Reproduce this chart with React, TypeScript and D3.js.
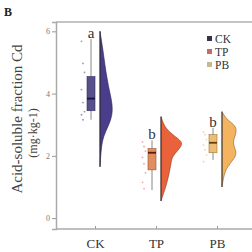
import React, { useRef, useEffect } from "react";
import * as d3 from "d3";

// groups and colours
const groups = ["CK", "TP", "PB"];
const sigLetters = ["a", "b", "b"];
const violinFill = ["#4a3d8c", "#e9623b", "#f3b35f"];
const violinStroke = ["#2a2050", "#8a3a20", "#8a6030"];
const boxFill = ["#56508c", "#e0905f", "#ecbd74"];
const boxStroke = ["#3a3060", "#a04a2a", "#a07838"];
const medianColor = ["#1c1434", "#5a1e0e", "#6a4010"];
const legendColors = ["#3a3048", "#c86a6a", "#c8b890"];

// box stats: [min, q1, median, q3, max]
const boxStats = [
  [3.16, 3.45, 3.84, 4.55, 5.75],
  [0.9, 1.55, 2.1, 2.23, 2.5],
  [1.87, 2.1, 2.42, 2.68, 2.9],
];

// raw points
const ckPoints = [5.68, 4.97, 4.68, 4.13, 3.71, 3.42, 3.32, 3.16];
const tpPoints = [2.45, 2.3, 2.15, 1.95, 1.75, 1.45, 1.15, 0.95];
const pbPoints = [2.77, 2.68, 2.52, 2.35, 2.19, 2.03, 1.81];

// half violin profiles (value, relative density)
const ckViolinValues = [6.0, 5.42, 4.94, 4.45, 4.06, 3.8, 3.39, 3.0, 2.61, 2.19, 1.9, 1.65];
const ckViolinDensity = [0, 0.12, 0.2, 0.3, 0.4, 0.48, 0.54, 0.38, 0.12, 0.05, 0.02, 0];
const tpViolinValues = [3.26, 3.03, 2.84, 2.61, 2.42, 2.19, 1.97, 1.77, 1.39, 1.0, 0.74, 0.55];
const tpViolinDensity = [0, 0.1, 0.25, 0.6, 0.95, 0.72, 0.46, 0.42, 0.33, 0.2, 0.08, 0];
const pbViolinValues = [3.42, 3.29, 3.16, 2.94, 2.68, 2.42, 2.13, 1.94, 1.65, 1.39, 1.0];
const pbViolinDensity = [0, 0.1, 0.22, 0.62, 0.58, 0.42, 0.62, 0.54, 0.22, 0.08, 0];

const yTicks = [0, 2, 4, 6];

const points = [ckPoints, tpPoints, pbPoints];
const violins = [
  [ckViolinValues, ckViolinDensity],
  [tpViolinValues, tpViolinDensity],
  [pbViolinValues, pbViolinDensity],
];

const RaincloudChart = () => {
  const container = useRef(null);

  const width = 252;
  const height = 252;

  useEffect(() => {
    const svg = d3.select(container.current);
    svg.selectAll("*").remove();

    const font = "'Liberation Serif', 'Times New Roman', serif";

    const xScale = d3.scalePoint().domain(groups).range([95, 217]);
    const yScale = d3.scaleLinear().domain([-0.35, 6.3]).range([229, 22]);
    const wScale = d3.scaleLinear().domain([0, 1]).range([0, 24]);

    // frame lines
    svg
      .append("line")
      .attr("x1", 56)
      .attr("x2", width)
      .attr("y1", yScale(6.3))
      .attr("y2", yScale(6.3))
      .attr("stroke", "#b0b0b0")
      .attr("stroke-width", 1.5);

    // y axis
    const yAxis = d3
      .axisLeft(yScale)
      .tickValues(yTicks)
      .tickFormat(d3.format("d"))
      .tickSize(4)
      .tickPadding(2);
    const yg = svg.append("g").attr("transform", "translate(56,0)").call(yAxis);
    yg.select(".domain").attr("stroke", "#aaa").attr("stroke-width", 1.5);
    yg.selectAll(".tick line").attr("stroke", "#999");
    yg.selectAll(".tick text")
      .attr("fill", "#777")
      .style("font-family", font)
      .style("font-size", "8px");

    // x axis
    const xAxis = d3.axisBottom(xScale).tickSize(-3).tickPadding(10);
    const xg = svg.append("g").attr("transform", "translate(0,229)").call(xAxis);
    xg.select(".domain").remove();
    xg.append("line")
      .attr("x1", 56)
      .attr("x2", width)
      .attr("stroke", "#aaa")
      .attr("stroke-width", 1.5);
    xg.selectAll(".tick line").attr("stroke", "#999");
    xg.selectAll(".tick text")
      .attr("fill", "#333")
      .style("font-family", font)
      .style("font-size", "13px");

    // y label
    svg
      .append("text")
      .attr("transform", `translate(22,${119}) rotate(-90)`)
      .attr("text-anchor", "middle")
      .attr("fill", "#444")
      .style("font-family", font)
      .style("font-size", "15px")
      .text("Acid-soluble fraction Cd");
    svg
      .append("text")
      .attr("transform", `translate(37,${133}) rotate(-90)`)
      .attr("text-anchor", "middle")
      .attr("fill", "#444")
      .style("font-family", font)
      .style("font-size", "12px")
      .text("(mg·kg-1)");

    // panel letter
    svg
      .append("text")
      .attr("x", 4)
      .attr("y", 16)
      .attr("fill", "#222")
      .style("font-family", font)
      .style("font-weight", "bold")
      .style("font-size", "12px")
      .text("B");

    groups.forEach((g, i) => {
      const cx = xScale(g);
      const vx = cx + 5;
      const bx = cx - 4;
      const [vals, dens] = violins[i];
      const prof = vals.map((v, j) => ({ v, d: dens[j] }));

      // half violin
      const area = d3
        .area()
        .y((d) => yScale(d.v))
        .x0(vx)
        .x1((d) => vx + wScale(d.d))
        .curve(d3.curveBasis);
      svg
        .append("path")
        .datum(prof)
        .attr("d", area)
        .attr("fill", violinFill[i])
        .attr("stroke", violinStroke[i])
        .attr("stroke-width", 0.6);
      svg
        .append("line")
        .attr("x1", vx)
        .attr("x2", vx)
        .attr("y1", yScale(vals[0]))
        .attr("y2", yScale(vals[vals.length - 1]))
        .attr("stroke", "#333")
        .attr("stroke-width", 1);

      // jittered points
      svg
        .selectAll(null)
        .data(points[i])
        .enter()
        .append("circle")
        .attr("cx", (d, j) => bx - 8 + ((j % 3) - 1) * 1.5)
        .attr("cy", (d) => yScale(d))
        .attr("r", 0.9)
        .attr("fill", violinFill[i])
        .attr("opacity", 0.55);

      // box plot
      const [mn, q1, md, q3, mx] = boxStats[i];
      svg
        .append("line")
        .attr("x1", bx)
        .attr("x2", bx)
        .attr("y1", yScale(mn))
        .attr("y2", yScale(mx))
        .attr("stroke", "#888")
        .attr("stroke-width", 1);
      svg
        .append("rect")
        .attr("x", bx - 4)
        .attr("width", 8)
        .attr("y", yScale(q3))
        .attr("height", yScale(q1) - yScale(q3))
        .attr("fill", boxFill[i])
        .attr("stroke", boxStroke[i])
        .attr("stroke-width", 0.6);
      svg
        .append("line")
        .attr("x1", bx - 4)
        .attr("x2", bx + 4)
        .attr("y1", yScale(md))
        .attr("y2", yScale(md))
        .attr("stroke", medianColor[i])
        .attr("stroke-width", 1.8);

      // significance letter
      svg
        .append("text")
        .attr("x", bx)
        .attr("y", yScale(mx) - 1)
        .attr("text-anchor", "middle")
        .attr("fill", "#333")
        .style("font-family", font)
        .style("font-size", "15px")
        .text(sigLetters[i]);
    });

    // legend
    const legend = svg.append("g").attr("transform", "translate(207,39)");
    legend
      .selectAll("rect")
      .data(groups)
      .enter()
      .append("rect")
      .attr("x", 0)
      .attr("y", (d, i) => i * 13 - 3)
      .attr("width", 5)
      .attr("height", 5)
      .attr("fill", (d, i) => legendColors[i]);
    legend
      .selectAll("text")
      .data(groups)
      .enter()
      .append("text")
      .attr("x", 8)
      .attr("y", (d, i) => i * 13 + 3.5)
      .attr("fill", "#333")
      .style("font-family", font)
      .style("font-size", "11.5px")
      .text((d) => d);
  }, []);

  return (
    <svg
      ref={container}
      width={width}
      height={height}
      style={{ position: "absolute", left: 0, top: 0, background: "#fff" }}
    />
  );
};

export default function App() {
  return <RaincloudChart />;
}
